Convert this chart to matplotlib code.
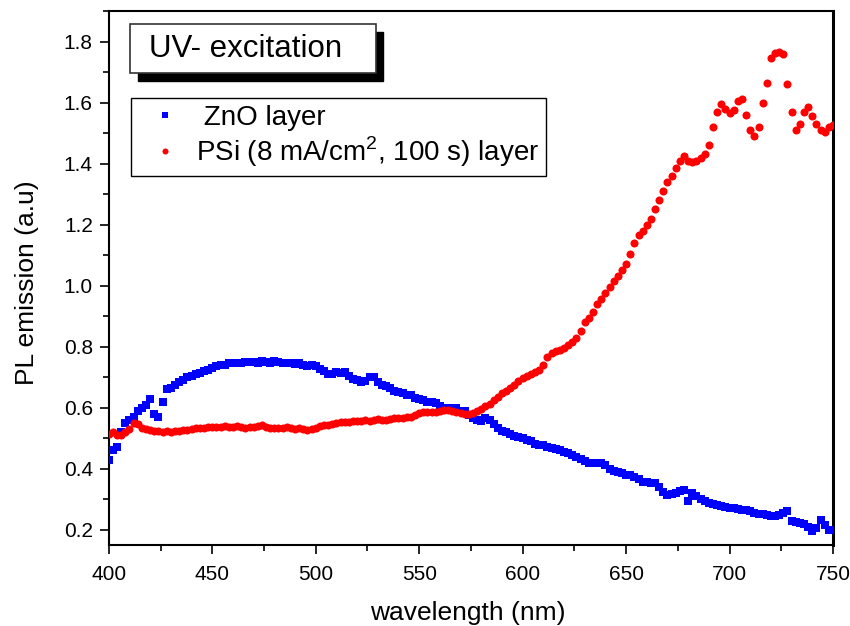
import numpy as np
import matplotlib
matplotlib.use('Agg')
import matplotlib.pyplot as plt
from matplotlib.patches import Rectangle
from matplotlib.ticker import MultipleLocator, FormatStrFormatter

plt.rcParams.update({
    'font.family': ['Liberation Sans', 'DejaVu Sans'],
    'mathtext.fontset': 'custom',
    'mathtext.rm': 'Liberation Sans',
})

# ── Data (2 nm steps) ────────────────────────────────────────────
wavelength = np.arange(400, 751, 2)

zno = [
    0.43, 0.46, 0.47, 0.52, 0.55, 0.56, 0.57, 0.59, 0.60, 0.61,
    0.63, 0.58, 0.57, 0.62, 0.66, 0.665, 0.675, 0.685, 0.69, 0.70,
    0.705, 0.71, 0.715, 0.72, 0.725, 0.73, 0.735, 0.74, 0.74, 0.745,
    0.745, 0.745, 0.748, 0.75, 0.75, 0.75, 0.748, 0.752, 0.75, 0.748,
    0.752, 0.75, 0.748, 0.745, 0.745, 0.742, 0.745, 0.74, 0.738, 0.74,
    0.735, 0.728, 0.72, 0.71, 0.712, 0.718, 0.715, 0.718, 0.705, 0.695,
    0.69, 0.685, 0.688, 0.70, 0.70, 0.685, 0.675, 0.67, 0.665, 0.655,
    0.65, 0.647, 0.643, 0.64, 0.632, 0.63, 0.625, 0.62, 0.618, 0.615,
    0.605, 0.60, 0.60, 0.60, 0.598, 0.59, 0.588, 0.575, 0.565, 0.56,
    0.555, 0.565, 0.56, 0.545, 0.535, 0.525, 0.52, 0.515, 0.508, 0.505,
    0.50, 0.495, 0.49, 0.482, 0.478, 0.478, 0.472, 0.468, 0.466, 0.46,
    0.455, 0.45, 0.445, 0.44, 0.432, 0.425, 0.418, 0.42, 0.418, 0.42,
    0.412, 0.40, 0.392, 0.39, 0.385, 0.38, 0.378, 0.374, 0.365, 0.358,
    0.355, 0.352, 0.353, 0.34, 0.325, 0.315, 0.318, 0.32, 0.328, 0.33,
    0.293, 0.32, 0.31, 0.30, 0.295, 0.288, 0.285, 0.282, 0.278, 0.274,
    0.27, 0.27, 0.268, 0.266, 0.265, 0.26, 0.256, 0.253, 0.25, 0.248,
    0.245, 0.244, 0.248, 0.255, 0.26, 0.23, 0.225, 0.222, 0.22, 0.21,
    0.195, 0.205, 0.233, 0.215, 0.20, 0.20,
]

psi = [
    0.515, 0.52, 0.51, 0.51, 0.52, 0.53, 0.55, 0.545, 0.533, 0.53,
    0.527, 0.525, 0.522, 0.52, 0.522, 0.52, 0.522, 0.525, 0.527, 0.527,
    0.53, 0.532, 0.533, 0.535, 0.537, 0.537, 0.538, 0.538, 0.54, 0.538,
    0.538, 0.54, 0.537, 0.535, 0.538, 0.538, 0.54, 0.542, 0.538, 0.535,
    0.535, 0.535, 0.533, 0.536, 0.532, 0.53, 0.533, 0.53, 0.528, 0.53,
    0.535, 0.54, 0.542, 0.544, 0.548, 0.55, 0.552, 0.554, 0.553, 0.556,
    0.558, 0.558, 0.56, 0.558, 0.56, 0.562, 0.56, 0.56, 0.562, 0.565,
    0.565, 0.566, 0.568, 0.57, 0.575, 0.582, 0.585, 0.586, 0.585, 0.587,
    0.59, 0.593, 0.593, 0.59, 0.585, 0.582, 0.58, 0.58, 0.582, 0.59,
    0.597, 0.605, 0.612, 0.625, 0.636, 0.648, 0.655, 0.665, 0.675, 0.688,
    0.696, 0.703, 0.71, 0.718, 0.725, 0.74, 0.765, 0.78, 0.785, 0.79,
    0.795, 0.805, 0.815, 0.83, 0.85, 0.88, 0.895, 0.915, 0.94, 0.955,
    0.975, 0.995, 1.015, 1.03, 1.05, 1.07, 1.105, 1.14, 1.165, 1.18,
    1.20, 1.22, 1.25, 1.28, 1.31, 1.34, 1.36, 1.385, 1.41, 1.425,
    1.41, 1.405, 1.41, 1.418, 1.43, 1.46, 1.52, 1.57, 1.595, 1.578,
    1.565, 1.575, 1.605, 1.612, 1.56, 1.51, 1.49, 1.52, 1.60, 1.665,
    1.745, 1.762, 1.765, 1.76, 1.66, 1.57, 1.51, 1.53, 1.568, 1.585,
    1.555, 1.53, 1.51, 1.505, 1.52, 1.525,
]

# ── Figure ───────────────────────────────────────────────────────
fig = plt.figure(figsize=(8.5, 6.26), dpi=100)
ax = fig.add_axes([0.128, 0.1294, 0.852, 0.853])

ax.plot(wavelength, zno, 's', color='#0000ff', markersize=5.8, markeredgewidth=0,
        label=' ZnO layer', zorder=3)
ax.plot(wavelength, psi, 'o', color='#ff0000', markersize=5.8, markeredgewidth=0,
        label=r'PSi (8 mA/cm$^2$, 100 s) layer', zorder=4)

ax.set_xlim(400, 750)
ax.set_ylim(0.15, 1.9)
ax.xaxis.set_major_locator(MultipleLocator(50))
ax.xaxis.set_minor_locator(MultipleLocator(25))
ax.yaxis.set_major_locator(MultipleLocator(0.2))
ax.yaxis.set_minor_locator(MultipleLocator(0.1))
ax.yaxis.set_major_formatter(FormatStrFormatter('%.1f'))
ax.tick_params(which='both', direction='out', top=False, right=False,
               labelsize=15, width=1.2)
ax.tick_params(which='major', length=6.5)
ax.tick_params(axis='x', which='major', pad=8)
ax.tick_params(axis='y', which='major', pad=5)
ax.tick_params(which='minor', length=4)
for side in ['left', 'bottom', 'top']:
    ax.spines[side].set_linewidth(1.5)
ax.spines['right'].set_linewidth(2.2)

ax.set_xlabel('wavelength (nm)', fontsize=19)
ax.set_ylabel('PL emission (a.u)', fontsize=19)
ax.xaxis.set_label_coords(0.496, -0.128)
ax.xaxis.label.set_verticalalignment('center')
ax.yaxis.set_label_coords(-0.113, 0.491)
ax.yaxis.label.set_verticalalignment('center')

# Title box with shadow
ax.add_patch(Rectangle((0.040, 0.869), 0.339, 0.092, transform=ax.transAxes,
                       facecolor='black', edgecolor='black', zorder=5))
ax.add_patch(Rectangle((0.029, 0.884), 0.340, 0.092, transform=ax.transAxes,
                       facecolor='white', edgecolor='#333333', linewidth=1.2, zorder=6))
ax.text(0.056, 0.928, 'UV- excitation', transform=ax.transAxes, fontsize=22.5,
        va='center', ha='left', zorder=7)

leg = ax.legend(loc='upper left', bbox_to_anchor=(0.03, 0.837), fontsize=20,
                frameon=True, fancybox=False, edgecolor='black', framealpha=1,
                markerscale=0.75, handlelength=2.0, handletextpad=0.1,
                borderpad=0.25, labelspacing=0.12, borderaxespad=0)
leg.get_frame().set_linewidth(1.0)

fig.savefig('out.png', dpi=100, facecolor='white')
